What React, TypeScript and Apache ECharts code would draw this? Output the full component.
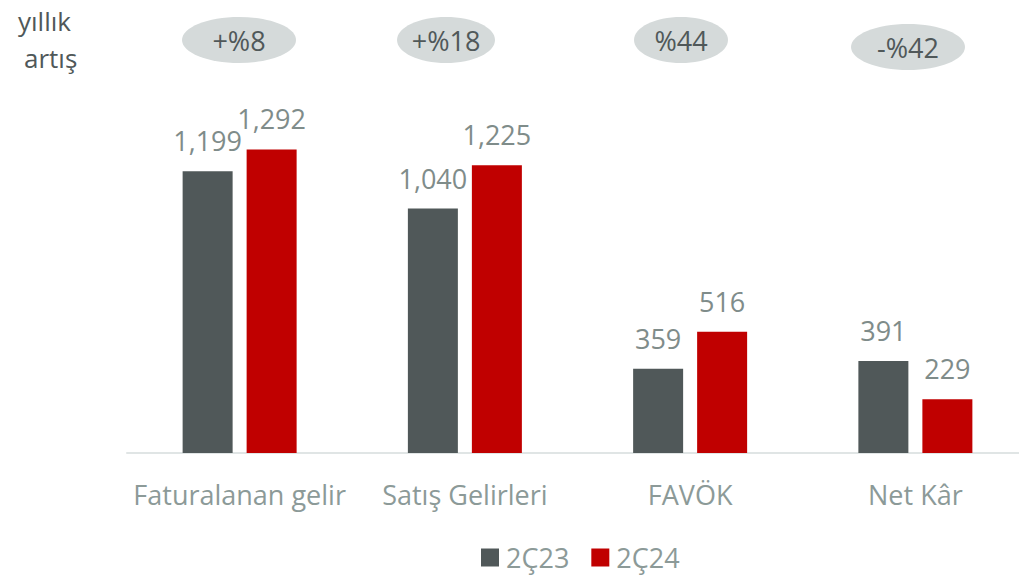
import React, { useEffect, useRef } from "react";
import * as echarts from "echarts";

const categories = ["Faturalanan gelir", "Satış Gelirleri", "FAVÖK", "Net Kâr"];
const series2Q23 = [1199, 1040, 359, 391];
const series2Q24 = [1292, 1225, 516, 229];
const seriesNames = ["2Ç23", "2Ç24"];
const growthLabels = ["+%8", "+%18", "%44", "-%42"];
const headerLines = ["yıllık", "artış"];

const FONT = "'Open Sans', 'Noto Sans', sans-serif";
const GRAY = "#505859";
const RED = "#C00000";
const LABEL = "#7F8C8A";
const CAT = "#8C9A98";

const pillPos = [
  { cx: 239, cy: 40, rx: 57, ry: 23 },
  { cx: 446, cy: 40, rx: 49, ry: 23 },
  { cx: 681, cy: 40, rx: 47, ry: 23 },
  { cx: 908, cy: 47, rx: 57, ry: 23 },
];
const headerPos = [
  { x: 18, y: 21 },
  { x: 24, y: 58 },
];

export default function App() {
  const ref = useRef<HTMLDivElement>(null);
  useEffect(() => {
    if (!ref.current) return;
    const chart = echarts.init(ref.current, null, { renderer: "svg" });
    const graphics: any[] = [];
    headerLines.forEach((t, i) => {
      graphics.push({
        type: "text",
        x: headerPos[i].x,
        y: headerPos[i].y,
        style: {
          text: t,
          font: `26px ${FONT}`,
          fill: GRAY,
          align: "left",
          verticalAlign: "middle",
        },
      });
    });
    growthLabels.forEach((t, i) => {
      const p = pillPos[i];
      graphics.push({
        type: "ellipse",
        shape: { cx: p.cx, cy: p.cy, rx: p.rx, ry: p.ry },
        style: { fill: "#D5DADA" },
      });
      graphics.push({
        type: "text",
        x: p.cx,
        y: p.cy,
        style: {
          text: t,
          font: `27px ${FONT}`,
          fill: GRAY,
          align: "center",
          verticalAlign: "middle",
        },
      });
    });
    const valueLabel = {
      show: true,
      position: "top",
      distance: 17,
      fontFamily: FONT,
      fontSize: 27,
      color: LABEL,
      formatter: (p: any) => p.value.toLocaleString("en-US"),
    };
    chart.setOption({
      animation: false,
      grid: { left: 127, right: 0, top: 124, bottom: 127 },
      legend: {
        bottom: 4,
        left: 476,
        itemWidth: 18,
        itemHeight: 18,
        itemGap: 22,
        icon: "rect",
        textStyle: { fontFamily: FONT, fontSize: 27, color: CAT, padding: [0, 0, 0, 2] },
        data: seriesNames,
      },
      xAxis: {
        type: "category",
        data: categories,
        axisLine: { lineStyle: { color: "#E0E5E5", width: 2 } },
        axisTick: { show: false },
        axisLabel: { fontFamily: FONT, fontSize: 27, color: CAT, margin: 28, interval: 0 },
      },
      yAxis: {
        type: "value",
        min: 0,
        max: 1400,
        show: false,
        splitLine: { show: false },
      },
      graphic: graphics,
      series: [
        {
          name: seriesNames[0],
          type: "bar",
          data: series2Q23,
          barWidth: 50,
          barGap: "28%",
          itemStyle: { color: GRAY },
          label: valueLabel,
        },
        {
          name: seriesNames[1],
          type: "bar",
          data: series2Q24,
          barWidth: 50,
          itemStyle: { color: RED },
          label: valueLabel,
        },
      ],
    });
    return () => chart.dispose();
  }, []);
  return (
    <div
      style={{ position: "fixed", left: 0, top: 0, width: 1019, height: 580, overflow: "hidden", background: "#fff" }}
    >
      <div ref={ref} style={{ width: 1028, height: 580 }} />
    </div>
  );
}
